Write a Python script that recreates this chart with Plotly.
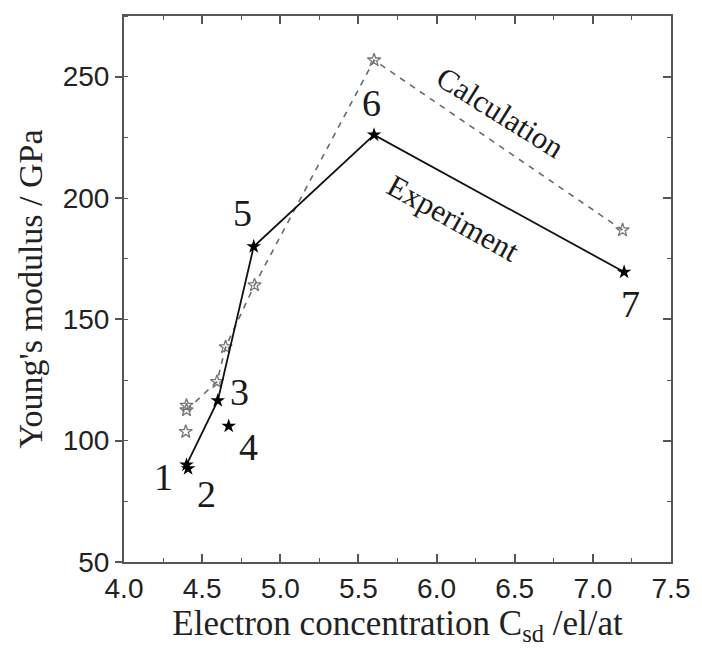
import plotly.graph_objects as go

# Experimental Young's modulus vs. electron concentration (filled stars, solid line)
exp_x = [4.40, 4.60, 4.83, 5.60, 7.20]
exp_y = [90.0, 116.5, 180.0, 226.0, 169.5]
# points drawn as markers only
exp_extra_x = [4.41, 4.67]
exp_extra_y = [88.5, 106.0]

# Calculated values (open stars, dashed line)
calc_x = [4.40, 4.595, 4.65, 4.835, 5.60, 7.19]
calc_y = [112.6, 124.3, 138.6, 164.1, 256.8, 186.8]
calc_extra_x = [4.395, 4.40]
calc_extra_y = [103.7, 114.5]

# sample numbers and where they sit
label_text = ["1", "2", "3", "4", "5", "6", "7"]
label_x = [4.40, 4.41, 4.60, 4.67, 4.83, 5.60, 7.20]
label_y = [90.0, 88.5, 116.5, 106.0, 180.0, 226.0, 169.5]
label_dx = [-23, 18, 22, 20, -11, -3, 6]
label_dy = [-12, -25, 9, -21, 34, 32, -32]

x_ticks = [4.0, 4.5, 5.0, 5.5, 6.0, 6.5, 7.0, 7.5]
y_ticks = [50, 100, 150, 200, 250]

SERIF = "Liberation Serif, Times New Roman, serif"
SANS = "Liberation Sans, Arial, sans-serif"
AX = "#555555"

fig = go.Figure()

fig.add_trace(go.Scatter(
    x=calc_x, y=calc_y, mode="lines+markers",
    line=dict(color="#6a6a6a", width=1.6, dash="6px,6px"),
    marker=dict(symbol="star-open", size=10, color="#777777", line=dict(width=1.3)),
    showlegend=False,
))
fig.add_trace(go.Scatter(
    x=calc_extra_x, y=calc_extra_y, mode="markers",
    marker=dict(symbol="star-open", size=10, color="#777777", line=dict(width=1.3)),
    showlegend=False,
))
fig.add_trace(go.Scatter(
    x=exp_x, y=exp_y, mode="lines+markers",
    line=dict(color="#111111", width=1.8),
    marker=dict(symbol="star", size=11, color="#000000"),
    showlegend=False,
))
fig.add_trace(go.Scatter(
    x=exp_extra_x, y=exp_extra_y, mode="markers",
    marker=dict(symbol="star", size=11, color="#000000"),
    showlegend=False,
))
# carrier for the right-hand frame axis
fig.add_trace(go.Scatter(x=[None], y=[None], yaxis="y2", showlegend=False, hoverinfo="skip"))

for t, x, y, dx, dy in zip(label_text, label_x, label_y, label_dx, label_dy):
    fig.add_annotation(x=x, y=y, text=t, showarrow=False, xshift=dx, yshift=dy,
                       font=dict(family=SERIF, size=38, color="#1a1a1a"))

fig.add_annotation(x=6.41, y=235.4, text="Calculation", showarrow=False, textangle=32,
                   font=dict(family=SERIF, size=31, color="#1a1a1a"))
fig.add_annotation(x=6.11, y=191.7, text="Experiment", showarrow=False, textangle=29,
                   font=dict(family=SERIF, size=31, color="#1a1a1a"))

fig.update_layout(
    width=702, height=650,
    margin=dict(l=124, r=22, t=16, b=88),
    paper_bgcolor="white", plot_bgcolor="white",
    xaxis=dict(
        range=[4.0, 7.5], tickvals=x_ticks, ticktext=[f"{v:.1f}" for v in x_ticks],
        ticks="inside", ticklen=8, tickwidth=1.5, tickcolor=AX,
        minor=dict(dtick=0.25, tick0=4.0, ticks="inside", ticklen=4, tickcolor=AX, tickwidth=1.2),
        showline=True, linecolor=AX, linewidth=2, mirror="ticks",
        showgrid=False, zeroline=False,
        tickfont=dict(family=SANS, size=28, color="#222222"),
        title=dict(text="Electron concentration C<sub>sd</sub> /el/at",
                   font=dict(family=SERIF, size=35, color="#222222"), standoff=6),
    ),
    yaxis=dict(
        range=[50, 275], tickvals=y_ticks,
        ticks="outside", ticklen=7, tickwidth=1.5, tickcolor=AX,
        minor=dict(dtick=25, tick0=50, ticks="inside", ticklen=4, tickcolor=AX, tickwidth=1.2),
        showline=True, linecolor=AX, linewidth=2,
        showgrid=False, zeroline=False,
        tickfont=dict(family=SANS, size=28, color="#222222"),
        title=dict(text="Young's modulus / GPa",
                   font=dict(family=SERIF, size=34, color="#222222"), standoff=10),
    ),
    yaxis2=dict(
        overlaying="y", side="right", range=[50, 275], tickvals=y_ticks,
        ticks="inside", ticklen=8, tickwidth=1.5, tickcolor=AX,
        minor=dict(dtick=25, tick0=50, ticks="inside", ticklen=4, tickcolor=AX, tickwidth=1.2),
        showline=True, linecolor=AX, linewidth=2,
        showticklabels=False, showgrid=False, zeroline=False,
    ),
)

fig.write_html("out.html")
